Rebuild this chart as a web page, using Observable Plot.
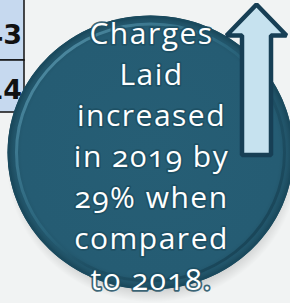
<!DOCTYPE html>
<html>
<head>
<meta charset="utf-8">
<script src="https://cdn.jsdelivr.net/npm/d3@7"></script>
<script src="https://cdn.jsdelivr.net/npm/@observablehq/plot@0.6"></script>
<style>
  html, body { margin: 0; padding: 0; background: #f1f3f3; }
  #chart svg { display: block; }
</style>
</head>
<body>
<div id="chart"></div>
<script>
// ---- data ----
const tableValues = ["43", "14"];
const calloutLines = ["Charges", "Laid", "increased", "in 2019 by", "29% when", "compared", "to 2018."];
const increasePct = 29;
const years = [2018, 2019];

// ---- layout ----
const W = 290, H = 303;
const cx = 150, cy = 152, RX = 143, RY = 137;
const tableRows = tableValues.map((v, i) => ({v, y1: i === 0 ? -5 : 60, y2: i === 0 ? 60 : 112, base: i === 0 ? 43 : 98}));
const lines = calloutLines.map((t, i) => ({t, y: 43 + i * 41}));
const arrow = [
  {x: 256, y: 4}, {x: 286, y: 35}, {x: 270.5, y: 35}, {x: 270.5, y: 154.5},
  {x: 241.5, y: 154.5}, {x: 241.5, y: 35}, {x: 226, y: 35}
];

// elliptical symbol for Plot.dot (aspect ry/rx)
function ellipseSymbol(aspect) {
  return {
    draw(ctx, size) {
      const rx = Math.sqrt(size / Math.PI), ry = rx * aspect, k = 0.5523;
      ctx.moveTo(rx, 0);
      ctx.bezierCurveTo(rx, k * ry, k * rx, ry, 0, ry);
      ctx.bezierCurveTo(-k * rx, ry, -rx, k * ry, -rx, 0);
      ctx.bezierCurveTo(-rx, -k * ry, -k * rx, -ry, 0, -ry);
      ctx.bezierCurveTo(k * rx, -ry, rx, -k * ry, rx, 0);
      ctx.closePath();
    }
  };
}
const ell = ellipseSymbol(RY / RX);

const plot = Plot.plot({
  width: W, height: H, margin: 0,
  style: {background: "#f1f3f3", overflow: "hidden"},
  x: {domain: [0, W], range: [0, W], axis: null},
  y: {domain: [0, H], range: [0, H], axis: null},
  marks: [
    // table fragment
    Plot.rect(tableRows, {x1: -10, x2: 24, y1: "y1", y2: "y2", fill: "#c6d9ef", stroke: "#111", strokeWidth: 1.5}),
    Plot.text(tableRows, {x: 21.5, y: "base", text: "v", textAnchor: "end", lineAnchor: "bottom", fontSize: 27, fontWeight: "bold", fontFamily: "DejaVu Sans, sans-serif", fill: "#111"}),
    // shadow
    Plot.dot([0], {x: cx + 2, y: cy + 10, r: RX + 3, symbol: ell, fill: "url(#shadowGrad)", stroke: null}),
    // disc
    Plot.dot([0], {x: cx, y: cy, r: RX, symbol: ell, fill: "url(#discGrad)", stroke: null}),
    Plot.dot([0], {x: cx, y: cy, r: RX - 1, symbol: ell, fill: "none", stroke: "#1a4a5e", strokeWidth: 2}),
    Plot.dot([0], {x: cx, y: cy, r: RX - 9, symbol: ell, fill: "none", stroke: "url(#bevelGrad)", strokeWidth: 3}),
    // arrow
    Plot.line(arrow, {x: "x", y: "y", curve: "linear-closed", fill: "#c6e2ef", stroke: "#173f55", strokeWidth: 4.5, strokeLinejoin: "miter"}),
    // callout text
    Plot.text(lines, {x: 151, y: "y", text: "t", lineAnchor: "bottom", fontSize: 30, fontFamily: "Open Sans, sans-serif", fill: "white", stroke: "#1d4f63", strokeWidth: 3.5, strokeOpacity: 0.85})
  ]
});

const svg = d3.select(plot);
svg.insert("defs", ":first-child").html(`
  <radialGradient id="discGrad" cx="0.5" cy="0.5" r="0.5">
    <stop offset="0" stop-color="#265e75"/>
    <stop offset="0.9" stop-color="#255c73"/>
    <stop offset="0.96" stop-color="#215469"/>
    <stop offset="1" stop-color="#1a4658"/>
  </radialGradient>
  <radialGradient id="shadowGrad" cx="0.5" cy="0.5" r="0.5">
    <stop offset="0.85" stop-color="#000" stop-opacity="0.22"/>
    <stop offset="1" stop-color="#000" stop-opacity="0"/>
  </radialGradient>
  <linearGradient id="bevelGrad" x1="0" y1="0" x2="1" y2="1">
    <stop offset="0" stop-color="#5e9bb2"/>
    <stop offset="0.45" stop-color="#2f6d85" stop-opacity="0.6"/>
    <stop offset="0.6" stop-color="#1c4b5f" stop-opacity="0.6"/>
    <stop offset="1" stop-color="#163f51"/>
  </linearGradient>
`);
svg.selectAll("text").filter(function() { return calloutLines.includes(this.textContent); })
  .style("letter-spacing", "1.5px")
  .style("font-variant-numeric", "oldstyle-nums");
document.getElementById("chart").appendChild(plot);
</script>
</body>
</html>
